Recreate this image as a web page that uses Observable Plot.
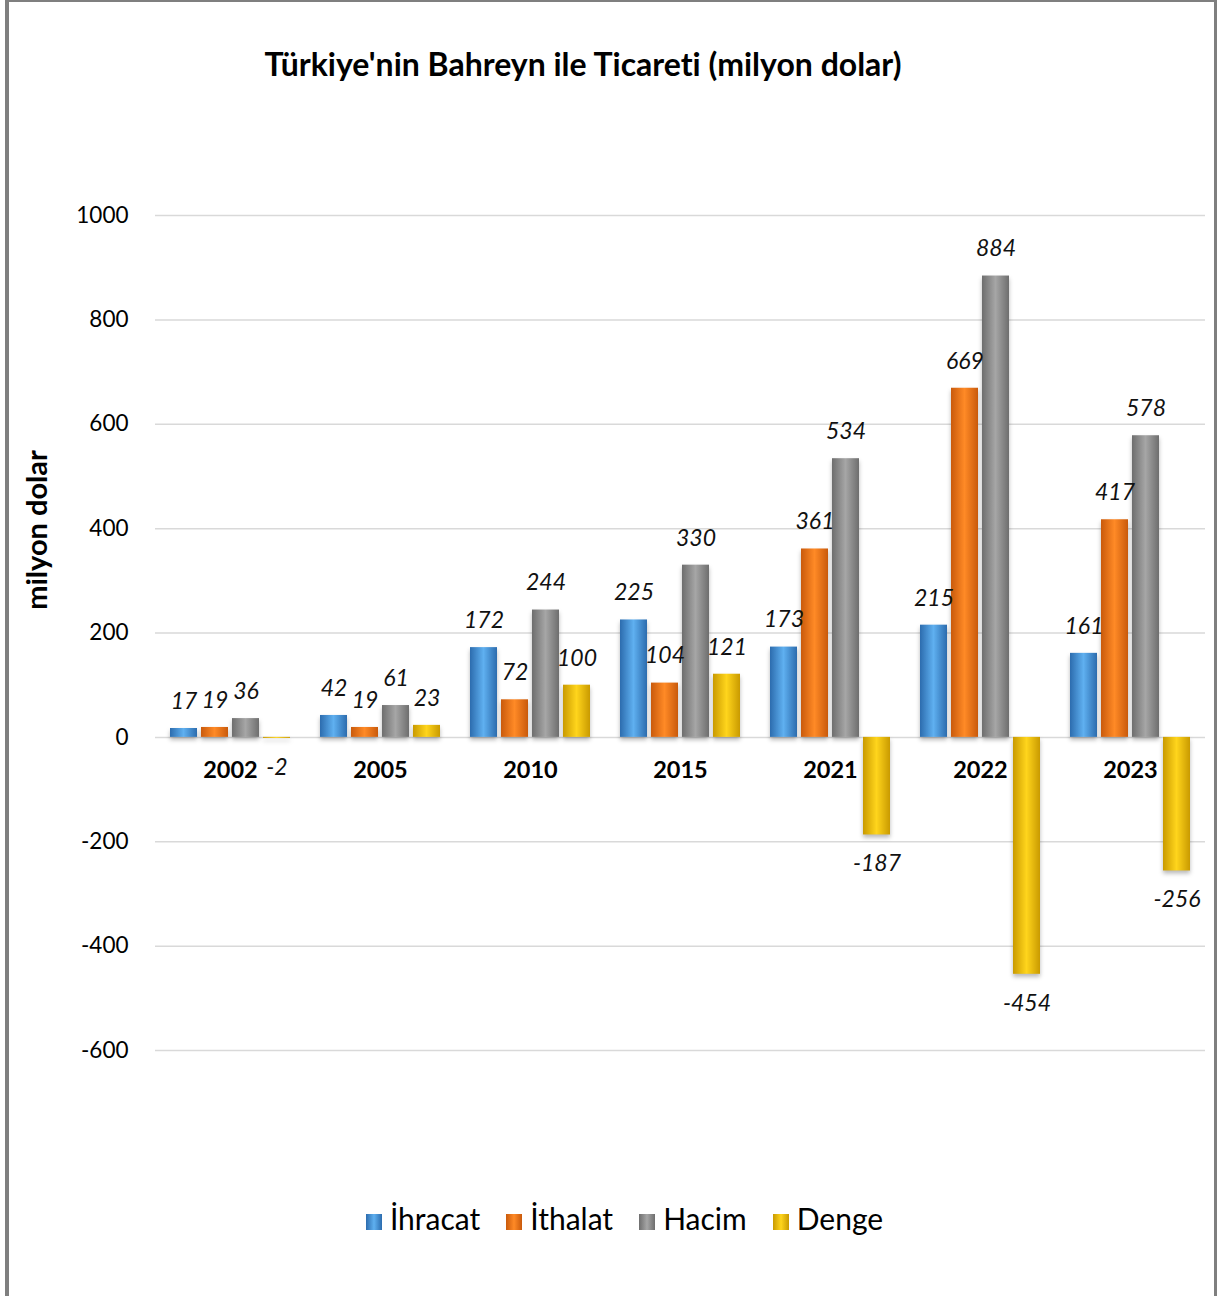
<!DOCTYPE html>
<html>
<head>
<meta charset="utf-8">
<script src="https://cdn.jsdelivr.net/npm/d3@7"></script>
<script src="https://cdn.jsdelivr.net/npm/@observablehq/plot@0.6"></script>
<style>
  html, body { margin: 0; padding: 0; background: #fff; }
  body { width: 1217px; height: 1296px; position: relative; overflow: hidden; font-family: Lato, "Noto Sans", sans-serif; font-variant-ligatures: none; }
  #frame { position: absolute; left: 5px; top: 0; width: 1212px; height: 1310px; box-sizing: border-box;
           border-left: 4px solid #7f7f7f; border-top: 2px solid #7f7f7f; border-right: 3px solid #7f7f7f; }
  #title { position: absolute; left: 0; width: 1166px; top: 44px; text-align: center; font-weight: 700; font-size: 32px; color: #000; }
  #ylabel { position: absolute; left: 35px; top: 530px; transform: translate(-50%, -50%) rotate(-90deg); font-weight: 700; font-size: 29px; white-space: nowrap; color: #000; }
  #chart { position: absolute; left: 0; top: 150px; }
  #legend { position: absolute; left: 0; width: 1249px; top: 1200px; text-align: center; font-size: 30px; color: #000; }
  #legend span.item { display: inline-block; margin: 0 13px; }
  #legend span.sw { display: inline-block; width: 16px; height: 16px; margin-right: 8px; vertical-align: 0px; }
  #chart svg { font-variant-ligatures: none; }
  #chart svg g[aria-label="bar"] rect { filter: drop-shadow(0px 3px 2px rgba(0,0,0,0.28)); }
</style>
</head>
<body>
<div id="frame"></div>
<div id="title">Türkiye'nin Bahreyn ile Ticareti (milyon dolar)</div>
<div id="ylabel">milyon dolar</div>
<div id="chart"></div>
<div id="legend"></div>
<script>
// ---- data ----
const years = ["2002", "2005", "2010", "2015", "2021", "2022", "2023"];
const series = ["İhracat", "İthalat", "Hacim", "Denge"];
const ihracat = [17, 42, 172, 225, 173, 215, 161];
const ithalat = [19, 19, 72, 104, 361, 669, 417];
const hacim   = [36, 61, 244, 330, 534, 884, 578];
const denge   = [-2, 23, 100, 121, -187, -454, -256];
const yTicks  = [-600, -400, -200, 0, 200, 400, 600, 800, 1000];

const seriesValues = [ihracat, ithalat, hacim, denge];
const data = [];
years.forEach((yr, i) => {
  series.forEach((s, j) => data.push({year: yr, series: s, value: seriesValues[j][i]}));
});
const yearRows = years.map(y => ({year: y, zero: 0}));

// gradient ids per series
const gradIds = ["g-ihr", "g-ith", "g-hac", "g-den"];
const gradStops = [
  ["#2c6cae", "#5fb0f0", "#2c6cae"],
  ["#c95a0c", "#ff8a26", "#c95a0c"],
  ["#6e6e6e", "#a6a6a6", "#6e6e6e"],
  ["#c99a00", "#ffd51c", "#c99a00"]
];
const swatchCss = gradStops.map(s => `linear-gradient(90deg, ${s[0]}, ${s[1]}, ${s[2]})`);

const chart = Plot.plot({
  width: 1217,
  height: 950,
  marginLeft: 155,
  marginRight: 12,
  marginTop: 65,
  marginBottom: 50,
  style: {fontFamily: "Lato, 'Noto Sans', sans-serif", color: "#000", background: "transparent"},
  fx: {domain: years, axis: null, paddingInner: 0, paddingOuter: 0},
  x: {domain: series, axis: null, paddingInner: 0.14, paddingOuter: 0.47},
  y: {domain: [-600, 1000], nice: false, axis: null},
  color: {domain: series, range: gradIds.map(id => `url(#${id})`)},
  marks: [
    Plot.gridY(yTicks, {stroke: "#d9d9d9", strokeOpacity: 1, strokeWidth: 1.5}),
    Plot.axisY(yTicks, {tickSize: 0, tickPadding: 27, fontSize: 22.5, label: null, tickFormat: d => String(d)}),
    Plot.barY(data, {fx: "year", x: "series", y: "value", fill: "series"}),
    Plot.text(data.filter(d => d.value >= 0), {fx: "year", x: "series", y: "value", text: d => String(d.value),
      dy: -27, fontSize: 23, fontStyle: "italic", fill: "#111"}),
    Plot.text(data.filter(d => d.value < 0), {fx: "year", x: "series", y: "value", text: d => String(d.value),
      dy: 29, fontSize: 23, fontStyle: "italic", fill: "#111"}),
    Plot.text(yearRows, {fx: "year", y: "zero", text: "year", dy: 33, fontSize: 23.5, fontWeight: "bold", fill: "#000"})
  ]
});

// add gradient definitions
const defs = `<defs>${gradIds.map((id, i) => `<linearGradient id="${id}" x1="0" x2="1" y1="0" y2="0">
  <stop offset="0" stop-color="${gradStops[i][0]}"/>
  <stop offset="0.5" stop-color="${gradStops[i][1]}"/>
  <stop offset="1" stop-color="${gradStops[i][2]}"/>
</linearGradient>`).join("")}</defs>`;
chart.insertAdjacentHTML("afterbegin", defs);
document.getElementById("chart").appendChild(chart);

// legend
const legend = document.getElementById("legend");
series.forEach((s, i) => {
  const item = document.createElement("span");
  item.className = "item";
  const sw = document.createElement("span");
  sw.className = "sw";
  sw.style.background = swatchCss[i];
  item.appendChild(sw);
  item.appendChild(document.createTextNode(s));
  legend.appendChild(item);
});
</script>
</body>
</html>
